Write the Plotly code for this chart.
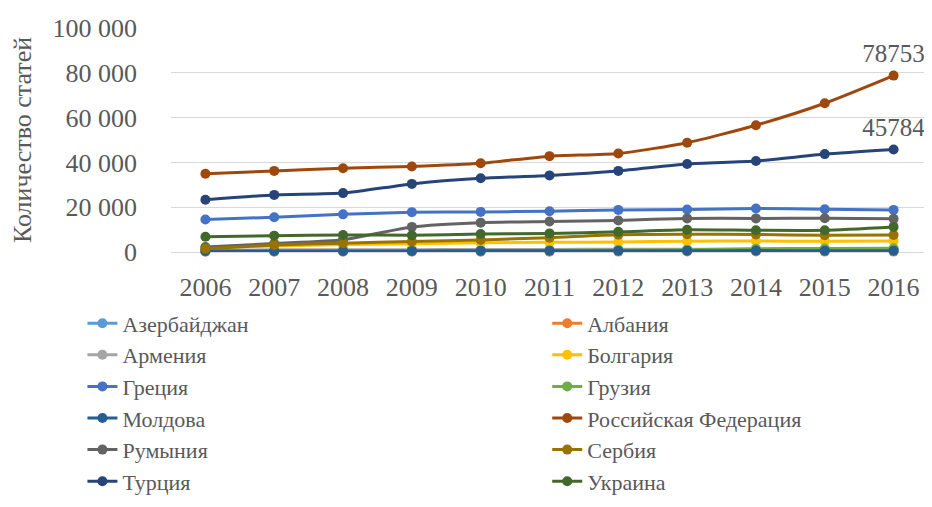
import plotly.graph_objects as go

years = [2006, 2007, 2008, 2009, 2010, 2011, 2012, 2013, 2014, 2015, 2016]

azerbaijan = [450, 480, 500, 550, 600, 650, 700, 800, 750, 700, 650]
albania = [80, 90, 100, 120, 130, 150, 170, 200, 190, 180, 170]
armenia = [900, 950, 1000, 1050, 1100, 1150, 1200, 1250, 1200, 1150, 1150]
bulgaria = [2000, 2700, 3300, 3700, 4100, 4300, 4500, 4800, 4900, 4800, 4900]
greece = [14500, 15500, 16800, 17800, 17900, 18200, 18800, 19000, 19400, 19100, 18800]
georgia = [300, 350, 400, 500, 600, 700, 850, 1000, 1400, 1600, 1700]
moldova = [450, 470, 480, 500, 520, 540, 560, 600, 620, 600, 600]
russia = [34900, 36200, 37400, 38200, 39600, 42800, 44000, 48800, 56600, 66400, 78753]
romania = [2200, 3800, 5500, 11200, 13100, 13600, 14100, 15000, 15000, 15100, 14800]
serbia = [1500, 3100, 3900, 4700, 5400, 6400, 7700, 7900, 7800, 7500, 7600]
turkey = [23300, 25500, 26300, 30400, 32900, 34200, 36200, 39300, 40600, 43700, 45784]
ukraine = [6800, 7300, 7600, 7500, 8000, 8300, 9000, 9900, 9700, 9700, 11200]

series = [
    ("Азербайджан", azerbaijan, "#5B9BD5"),
    ("Албания", albania, "#ED7D31"),
    ("Армения", armenia, "#A5A5A5"),
    ("Болгария", bulgaria, "#FFC000"),
    ("Греция", greece, "#4472C4"),
    ("Грузия", georgia, "#70AD47"),
    ("Молдова", moldova, "#255E91"),
    ("Российская Федерация", russia, "#9E480E"),
    ("Румыния", romania, "#636363"),
    ("Сербия", serbia, "#997300"),
    ("Турция", turkey, "#264478"),
    ("Украина", ukraine, "#43682B"),
]
labelled = {"Российская Федерация", "Турция"}

FONT = "Liberation Serif"
TXT = "#595959"

fig = go.Figure()
for i, (name, vals, color) in enumerate(series):
    show_label = name in labelled
    fig.add_trace(go.Scatter(
        x=years, y=vals, name=name,
        mode="lines+markers+text" if show_label else "lines+markers",
        line=dict(color=color, width=3, shape="spline", smoothing=0.6),
        marker=dict(color=color, size=10),
        text=[str(v) if (show_label and j == len(vals) - 1) else "" for j, v in enumerate(vals)],
        textposition="top center",
        textfont=dict(family=FONT, size=25, color=TXT),
        cliponaxis=False,
        legend="legend" if i % 2 == 0 else "legend2",
    ))

legend_common = dict(
    orientation="v",
    xanchor="left", yanchor="top",
    y=-0.225,
    font=dict(family=FONT, size=22, color=TXT),
    itemwidth=30,
    traceorder="normal",
    bgcolor="rgba(0,0,0,0)",
)

fig.update_layout(
    width=932, height=507,
    margin=dict(l=163, r=12, t=20, b=258),
    paper_bgcolor="white", plot_bgcolor="white",
    font=dict(family=FONT, size=26, color=TXT),
    separators=", ",
    showlegend=True,
    legend=dict(legend_common, x=-0.117),
    legend2=dict(legend_common, x=0.497),
    xaxis=dict(
        type="linear",
        range=[2005.5, 2016.5],
        tickvals=years,
        ticktext=[str(y) for y in years],
        showgrid=False, zeroline=False,
        showline=False, automargin=False,
        ticks="", ticklabelstandoff=17, tickangle=0,
        tickfont=dict(family=FONT, size=26, color=TXT),
    ),
    yaxis=dict(
        range=[0, 100000],
        tickvals=[0, 20000, 40000, 60000, 80000, 100000],
        tickformat=",d",
        showgrid=True, gridcolor="#D9D9D9", gridwidth=1,
        zeroline=True, zerolinecolor="#D9D9D9", zerolinewidth=1,
        automargin=False,
        ticks="", ticklabelstandoff=33,
        tickfont=dict(family=FONT, size=26, color=TXT),
        title=dict(text="Количество статей", standoff=16,
                   font=dict(family=FONT, size=26, color=TXT)),
    ),
)

fig.write_html("out.html")
